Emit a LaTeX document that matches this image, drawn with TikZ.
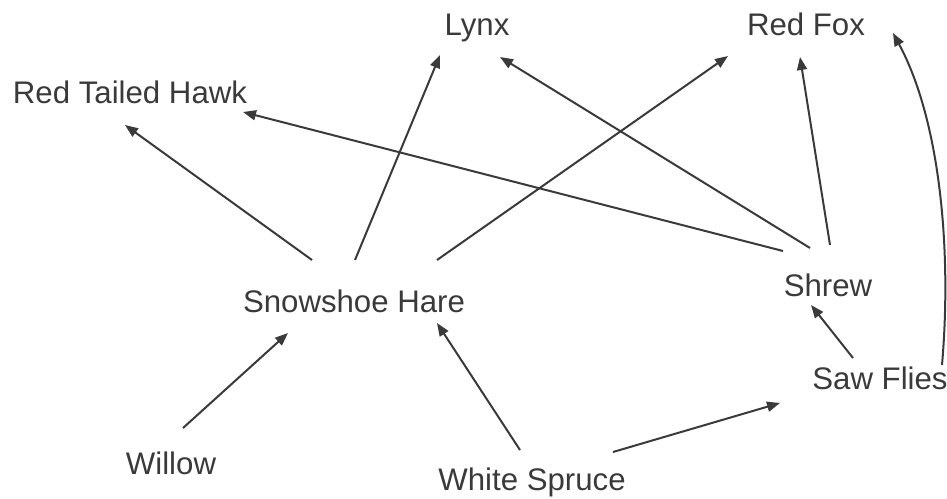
\documentclass[tikz,border=0pt]{standalone}
\usepackage{fontspec}
\setmainfont{Liberation Sans}
\usetikzlibrary{arrows.meta}
\definecolor{inkgray}{HTML}{3A3A3A}
\tikzset{
  species/.style={anchor=base, inner sep=0pt, text=inkgray, font=\fontsize{15.6}{18}\selectfont},
  eats/.style={-{Triangle[length=6.5pt,width=5pt]}, line width=1pt, draw=inkgray}
}

\begin{document}
\begin{tikzpicture}[x=0.5pt, y=-0.5pt]
\useasboundingbox (0,0) rectangle (947,498);

% Predators
\node[species] (hawk) at (130,103) {Red Tailed Hawk};
\node[species] (lynx) at (477,35) {Lynx};
\node[species] (fox) at (806,35) {Red Fox};

% Herbivores and insects
\node[species] (hare) at (354,312) {Snowshoe Hare};
\node[species] (shrew) at (828,296) {Shrew};
\node[species] (sawflies) at (880,389) {Saw Flies};

% Plants
\node[species] (willow) at (171,474) {Willow};
\node[species] (spruce) at (532,490) {White Spruce};

% Arrows from the hare
\draw[eats] ([shift={(-42,-52)}]hare.base) -- ([shift={(-5,22)}]hawk.base);
\draw[eats] ([shift={(1,-52)}]hare.base) -- ([shift={(-37,20)}]lynx.base);
\draw[eats] ([shift={(83,-52)}]hare.base) -- ([shift={(-78,21)}]fox.base);

% Arrows from the shrew
\draw[eats] ([shift={(-45,-45)}]shrew.base) -- ([shift={(113,9)}]hawk.base);
\draw[eats] ([shift={(-18,-48)}]shrew.base) -- ([shift={(23,22)}]lynx.base);
\draw[eats] ([shift={(2,-51)}]shrew.base) -- ([shift={(-6,22)}]fox.base);

% Arrows from the saw flies
\draw[eats] ([shift={(-27,-31)}]sawflies.base) -- ([shift={(-17,9)}]shrew.base);
\draw[eats] ([shift={(62,-24)}]sawflies.base) .. controls +(10,-115) and +(47,87) .. ([shift={(87,-2)}]fox.base);

% Arrows from the plants
\draw[eats] ([shift={(12,-46)}]willow.base) -- ([shift={(-66,21)}]hare.base);
\draw[eats] ([shift={(-12,-40)}]spruce.base) -- ([shift={(83,11)}]hare.base);
\draw[eats] ([shift={(81,-38)}]spruce.base) -- ([shift={(-100,14)}]sawflies.base);

\end{tikzpicture}
\end{document}
